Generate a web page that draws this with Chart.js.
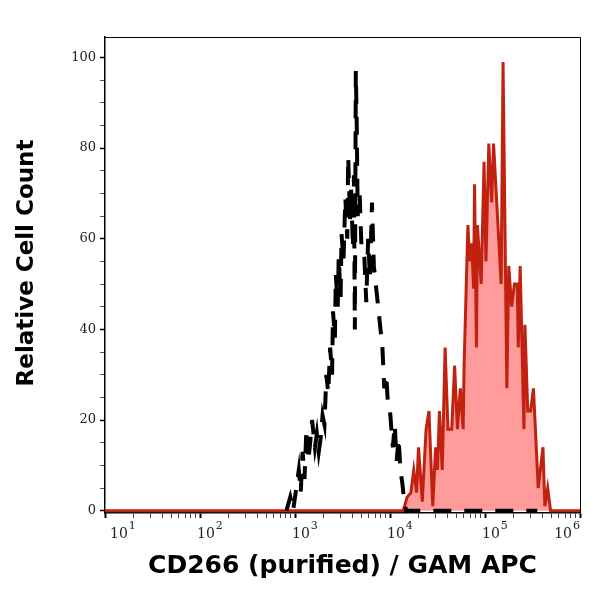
<!DOCTYPE html>
<html>
<head>
<meta charset="utf-8">
<script src="https://cdn.jsdelivr.net/npm/chart.js@4.4.0/dist/chart.umd.min.js"></script>
<style>
    body { margin: 0; background: #fff; }
    canvas { display: block; }
</style>
</head>
<body>
<canvas id="myChart" width="600" height="595"></canvas>
<script>
    // x values are log10 of the channel (10^1 .. 10^6)
    // isotype control, black dashed
    const isoX = [2.91, 2.95, 2.98, 3.02, 3.04, 3.06, 3.08, 3.10, 3.12, 3.14,
        3.16, 3.18, 3.21, 3.23, 3.25, 3.27, 3.29, 3.31, 3.33, 3.35,
        3.37, 3.39, 3.40, 3.42, 3.43, 3.45, 3.46, 3.48, 3.49, 3.51,
        3.53, 3.55, 3.56, 3.58, 3.59, 3.61, 3.62, 3.63, 3.64, 3.65,
        3.66, 3.68, 3.70, 3.73, 3.75, 3.77, 3.79, 3.81, 3.83, 3.85,
        3.88, 3.90, 3.92, 3.94, 3.96, 3.98, 4.00, 4.03, 4.05, 4.07,
        4.09, 4.11, 4.13, 4.15, 4.17, 5.55];
    const isoY = [0, 3, 0, 6, 9, 4, 13, 7, 18, 11,
        15, 20, 14, 17, 13, 16, 21, 19, 30, 26,
        36, 30, 44, 38, 52, 45, 56, 47, 61, 55,
        69, 60, 78, 64, 71, 58, 74, 40, 97, 85,
        65, 70, 58, 56, 46, 60, 51, 68, 54, 50,
        44, 40, 36, 27, 30, 23, 22, 14, 19, 11,
        16, 9, 6, 2, 0, 0];

    // CD266 stained, red filled
    const cdX = [1.00, 4.14, 4.18, 4.22, 4.25, 4.28, 4.30, 4.34, 4.38, 4.41,
        4.45, 4.48, 4.50, 4.52, 4.55, 4.58, 4.61, 4.65, 4.68, 4.71,
        4.74, 4.77, 4.78, 4.82, 4.84, 4.86, 4.88, 4.89, 4.91, 4.92,
        4.96, 4.99, 5.01, 5.04, 5.07, 5.09, 5.17, 5.19, 5.23,
        5.25, 5.28, 5.31, 5.34, 5.35, 5.37, 5.41, 5.42, 5.45, 5.48,
        5.51, 5.56, 5.61, 5.63, 5.66, 5.69, 6.00];
    const cdY = [0, 0, 3, 4, 9, 4, 14, 2, 18, 22,
        1, 14, 9, 22, 9, 36, 18, 18, 32, 18,
        27, 18, 32, 63, 55, 59, 49, 72, 36, 63,
        50, 77, 55, 81, 68, 81, 50, 99, 27,
        54, 45, 50, 50, 36, 54, 18, 41, 22, 22,
        27, 5, 14, 1, 5, 0, 0];

    const xDecades = [1, 2, 3, 4, 5, 6];
    const xExponents = ['1', '2', '3', '4', '5', '6'];
    const yMajor = [0, 20, 40, 60, 80, 100];
    const xTitle = 'CD266 (purified) / GAM APC';
    const yTitle = 'Relative Cell Count';

    function points(xs, ys) {
        return xs.map(function (x, i) { return {x: x, y: ys[i]}; });
    }

    // box round the plot, decade labels and the y title
    const extras = {
        id: 'extras',
        afterDraw: function (chart) {
            const c = chart.ctx;
            const a = chart.chartArea;
            const xs = chart.scales.x;
            c.save();
            c.strokeStyle = '#000';
            c.lineWidth = 1;
            c.beginPath();
            c.moveTo(a.left, a.top + 0.5);
            c.lineTo(a.right + 0.5, a.top + 0.5);
            c.lineTo(a.right + 0.5, a.bottom);
            c.stroke();

            c.fillStyle = '#222';
            c.textBaseline = 'alphabetic';
            c.textAlign = 'left';
            for (let i = 0; i < xDecades.length; i++) {
                c.font = '14px "DejaVu Serif"';
                const wBase = c.measureText('10').width;
                c.font = '11px "DejaVu Serif"';
                const wExp = c.measureText(xExponents[i]).width;
                const w = wBase + 1 + wExp;
                let start = xs.getPixelForValue(xDecades[i]) - 3;
                if (start < a.left + 5) start = a.left + 5;
                if (start + w > a.right) start = a.right - w;
                c.font = '14px "DejaVu Serif"';
                c.fillText('10', start, a.bottom + 25);
                c.font = '11px "DejaVu Serif"';
                c.fillText(xExponents[i], start + wBase + 1, a.bottom + 16);
            }

            c.translate(27, 263);
            c.rotate(-Math.PI / 2);
            c.font = 'bold 23px "DejaVu Sans"';
            c.fillStyle = '#000';
            c.textAlign = 'center';
            c.textBaseline = 'middle';
            c.fillText(yTitle, 0, 0);
            c.restore();
        }
    };

    const ctx = document.getElementById('myChart');
    var chart = new Chart(ctx, {
        type: 'line',
        data: {
            datasets: [{
                    label: 'isotype',
                    data: points(isoX, isoY),
                    borderColor: '#000',
                    borderWidth: 4,
                    borderDash: [18, 13],
                    pointRadius: 0,
                    fill: false,
                    tension: 0
                }, {
                    label: 'CD266',
                    data: points(cdX, cdY),
                    borderColor: '#c0220f',
                    backgroundColor: '#ff9b9b',
                    borderWidth: 3,
                    pointRadius: 0,
                    fill: 'origin',
                    tension: 0
                }]
        },
        options: {
            responsive: false,
            animation: false,
            devicePixelRatio: 1,
            layout: {
                padding: {left: 0, top: 37, right: 20, bottom: 0}
            },
            plugins: {
                legend: {display: false},
                tooltip: {enabled: false}
            },
            scales: {
                x: {
                    type: 'linear',
                    min: 1,
                    max: 6,
                    afterBuildTicks: function (scale) {
                        const t = [];
                        for (let d = 1; d <= 6; d++) {
                            t.push({value: d});
                            if (d < 6) {
                                for (let m = 2; m <= 9; m++) {
                                    t.push({value: d + Math.log10(m)});
                                }
                            }
                        }
                        scale.ticks = t;
                    },
                    afterFit: function (scale) {
                        scale.height = 82;
                    },
                    ticks: {display: false},
                    grid: {
                        drawOnChartArea: false,
                        tickLength: 5,
                        tickColor: function (c) {
                            return Number.isInteger(c.tick.value) ? '#000' : '#444';
                        },
                        tickWidth: function (c) {
                            return Number.isInteger(c.tick.value) ? 2 : 1;
                        }
                    },
                    border: {display: true, color: '#000', width: 1.5},
                    title: {
                        display: true,
                        text: xTitle,
                        color: '#000',
                        font: {family: 'DejaVu Sans', size: 25, weight: 'bold'},
                        padding: {top: 0, bottom: 14}
                    }
                },
                y: {
                    type: 'linear',
                    min: -0.5,
                    max: 104.5,
                    afterBuildTicks: function (scale) {
                        const t = [];
                        for (let v = 0; v <= 100; v += 5) {
                            t.push({value: v});
                        }
                        scale.ticks = t;
                    },
                    afterFit: function (scale) {
                        scale.width = 105;
                    },
                    ticks: {
                        color: '#222',
                        padding: 4,
                        font: {family: 'DejaVu Serif', size: 13},
                        callback: function (v) {
                            return yMajor.indexOf(v) >= 0 ? String(v) : '';
                        }
                    },
                    grid: {
                        drawOnChartArea: false,
                        tickLength: 5,
                        tickColor: function (c) {
                            return yMajor.indexOf(c.tick.value) >= 0 ? '#000' : '#555';
                        },
                        tickWidth: function (c) {
                            return yMajor.indexOf(c.tick.value) >= 0 ? 1.5 : 1;
                        }
                    },
                    border: {display: true, color: '#000', width: 1.5}
                }
            }
        },
        plugins: [extras]
    });
</script>
</body>
</html>
